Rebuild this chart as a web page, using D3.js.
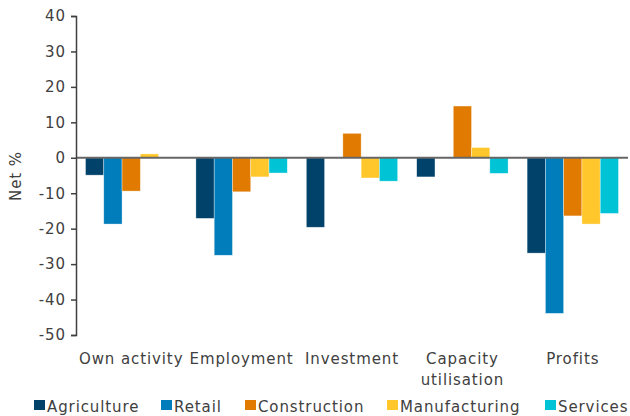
<!DOCTYPE html>
<html>
<head>
<meta charset="utf-8">
<script src="https://cdn.jsdelivr.net/npm/d3@7"></script>
<style>
  body { margin: 0; background: #fff; }
  svg text { font-family: "DejaVu Sans", sans-serif; fill: #404040; letter-spacing: 0.9px; }
</style>
</head>
<body>
<svg id="chart"></svg>
<script>
const size = {w: 630, h: 416};
const margin = {t: 16, r: 2, b: 81, l: 76};

// data
const categories = ['Own activity', 'Employment', 'Investment', 'Capacity\nutilisation', 'Profits'];
const seriesNames = ['Agriculture', 'Retail', 'Construction', 'Manufacturing', 'Services'];
const colors = ['#00426A', '#007DBA', '#E07A00', '#FFC72C', '#00C4D6'];
const agriculture = [-4.9, -17.1, -19.6, -5.4, -26.9];
const retail = [-18.7, -27.5, 0, 0, -43.9];
const construction = [-9.4, -9.6, 6.9, 14.6, -16.4];
const manufacturing = [1.1, -5.4, -5.7, 2.9, -18.7];
const services = [0, -4.3, -6.6, -4.4, -15.7];
const yTicks = [40, 30, 20, 10, 0, -10, -20, -30, -40, -50];

const values = [agriculture, retail, construction, manufacturing, services];

const svg = d3.select('svg#chart')
    .attr('width', size.w)
    .attr('height', size.h);

const w = size.w - margin.l - margin.r;
const h = size.h - margin.t - margin.b;

const g = svg.append('g')
    .attr('transform', `translate(${margin.l}, ${margin.t})`);

const x0 = d3.scaleBand().domain(categories).range([0, w]).paddingInner(0).paddingOuter(0);
const x1 = d3.scaleBand().domain(seriesNames).range([0, x0.bandwidth()]).paddingOuter(0.52);
const y = d3.scaleLinear().domain([-50, 40]).range([h, 0]);

// bars
const groups = g.append('g')
    .selectAll('g')
    .data(categories)
    .join('g')
    .attr('transform', d => `translate(${x0(d)}, 0)`);

groups.selectAll('rect')
    .data((c, i) => seriesNames.map((s, j) => ({s, j, v: values[j][i]})))
    .join('rect')
    .attr('x', d => x1(d.s))
    .attr('width', x1.bandwidth())
    .attr('y', d => y(Math.max(0, d.v)))
    .attr('height', d => Math.abs(y(d.v) - y(0)))
    .attr('fill', d => colors[d.j])
    .attr('stroke', '#fff')
    .attr('stroke-opacity', 0.6)
    .attr('stroke-width', 0.6);

// zero line
g.append('line')
    .attr('x1', 0).attr('x2', w)
    .attr('y1', y(0)).attr('y2', y(0))
    .attr('stroke', '#666')
    .attr('stroke-width', 2);

// y axis
const yAxis = g.append('g')
    .call(d3.axisLeft(y).tickValues(yTicks).tickSize(5).tickPadding(5).tickFormat(d => String(d)));
yAxis.select('.domain').attr('stroke', '#404040').attr('stroke-width', 1.5);
yAxis.selectAll('.tick line').attr('stroke', '#404040').attr('stroke-width', 1.5);
yAxis.selectAll('text')
    .style('font-size', '15px')
    .style('font-family', '"DejaVu Sans", sans-serif')
    .attr('fill', '#404040');

// category labels
const labels = g.append('g')
    .selectAll('text')
    .data(categories)
    .join('text')
    .attr('x', d => x0(d) + x0.bandwidth() / 2)
    .attr('y', h + 29)
    .attr('text-anchor', 'middle')
    .style('font-size', '15px');
labels.selectAll('tspan')
    .data(d => d.split('\n'))
    .join('tspan')
    .attr('x', function() { return d3.select(this.parentNode).attr('x'); })
    .attr('dy', (d, i) => i === 0 ? 0 : 21)
    .text(d => d);

// y label
svg.append('text')
    .attr('transform', 'translate(21, 176) rotate(-90)')
    .attr('text-anchor', 'middle')
    .style('font-size', '15px')
    .text('Net %');

// legend
const legendX = [34, 161, 245, 387, 545];
const legend = svg.append('g')
    .selectAll('g')
    .data(seriesNames)
    .join('g')
    .attr('transform', (d, i) => `translate(${legendX[i]}, 400)`);
legend.append('rect')
    .attr('width', 11).attr('height', 10)
    .attr('fill', (d, i) => colors[i]);
legend.append('text')
    .attr('x', 13)
    .attr('y', 12)
    .style('font-size', '15px')
    .text(d => d);
</script>
</body>
</html>
